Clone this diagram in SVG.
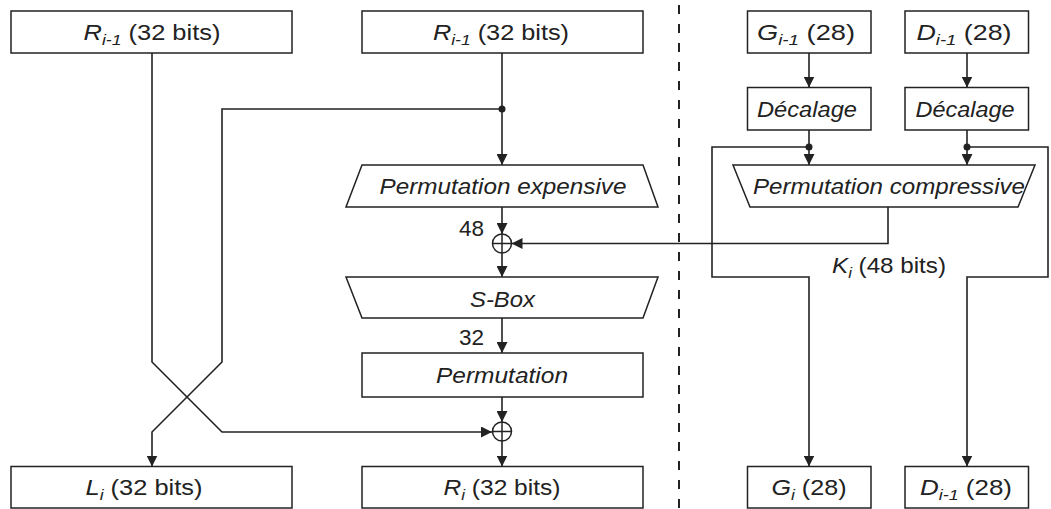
<svg xmlns="http://www.w3.org/2000/svg" width="1051" height="509" viewBox="0 0 1051 509">
<style>
.box{fill:#fff;stroke:#222;stroke-width:1.5}
.ln{fill:none;stroke:#222;stroke-width:1.5}
.arr{fill:none;stroke:#222;stroke-width:1.6;marker-end:url(#ah)}
.dash{fill:none;stroke:#222;stroke-width:2;stroke-dasharray:9 10}
text{font-family:"Liberation Sans",Arial,sans-serif;font-size:22.5px;fill:#222;text-anchor:middle}
.it{font-style:italic}
.sub{font-size:15.5px;font-style:italic}
</style>
<defs>
<marker id="ah" markerUnits="userSpaceOnUse" markerWidth="11" markerHeight="11" refX="11" refY="5.5" orient="auto">
<path d="M0,0 L11,5.5 L0,11 z" fill="#222"/>
</marker>
</defs>

<line class="dash" x1="679" y1="5" x2="679" y2="509"/>

<g id="connectors">
<polyline class="arr" points="152,53 152,362 222,432 492,432"/>
<polyline class="arr" points="502,109 222,109 222,362 152,432 152,466.5"/>
<circle cx="502" cy="109" r="3.5" fill="#222"/>
<line class="arr" x1="502" y1="53" x2="502" y2="165"/>
<line class="arr" x1="502" y1="207" x2="502" y2="234"/>
<line class="arr" x1="502" y1="253" x2="502" y2="277"/>
<line class="arr" x1="502" y1="318" x2="502" y2="353"/>
<line class="arr" x1="502" y1="397" x2="502" y2="422"/>
<line class="arr" x1="502" y1="441" x2="502" y2="466.5"/>
<line class="arr" x1="809" y1="53" x2="809" y2="87.5"/>
<line class="arr" x1="967" y1="53" x2="967" y2="87.5"/>
<line class="arr" x1="809" y1="130" x2="809" y2="165"/>
<line class="arr" x1="967" y1="130" x2="967" y2="165"/>
<circle cx="809" cy="147" r="3.5" fill="#222"/>
<circle cx="967" cy="147" r="3.5" fill="#222"/>
<polyline class="arr" points="809,147 712,147 712,277 809,277 809,466.5"/>
<polyline class="arr" points="967,147 1048,147 1048,277 967,277 967,466.5"/>
<polyline class="arr" points="888,207 888,243.5 511.5,243.5"/>
</g>

<g id="xor1">
<circle class="ln" cx="502" cy="243.5" r="9.5"/>
<line class="ln" x1="492.5" y1="243.5" x2="511.5" y2="243.5"/>
<line class="ln" x1="502" y1="234" x2="502" y2="253"/>
</g>
<g id="xor2">
<circle class="ln" cx="502" cy="431.5" r="9.5"/>
<line class="ln" x1="492.5" y1="431.5" x2="511.5" y2="431.5"/>
<line class="ln" x1="502" y1="422" x2="502" y2="441"/>
</g>

<g id="r-left">
<rect class="box" x="11" y="11" width="281" height="42"/>
<text x="152" y="39.5" textLength="137" lengthAdjust="spacingAndGlyphs"><tspan class="it">R</tspan><tspan class="sub" dy="5">i-1</tspan><tspan dy="-5"> (32 bits)</tspan></text>
</g>
<g id="r-right">
<rect class="box" x="362" y="11" width="281" height="42"/>
<text x="501" y="39.5" textLength="136" lengthAdjust="spacingAndGlyphs"><tspan class="it">R</tspan><tspan class="sub" dy="5">i-1</tspan><tspan dy="-5"> (32 bits)</tspan></text>
</g>
<g id="perm-exp">
<polygon class="box" points="362,165 643,165 658,207 346,207"/>
<text class="it" x="503" y="194" textLength="247" lengthAdjust="spacingAndGlyphs">Permutation expensive</text>
</g>
<text id="lbl48" x="484" y="236" style="text-anchor:end">48</text>
<g id="sbox">
<polygon class="box" points="346,277 658,277 643,318 362,318"/>
<text class="it" x="502.5" y="306.5" textLength="65" lengthAdjust="spacingAndGlyphs">S-Box</text>
</g>
<text id="lbl32" x="484" y="345" style="text-anchor:end">32</text>
<g id="perm">
<rect class="box" x="362" y="353" width="281" height="44"/>
<text class="it" x="502" y="383" textLength="132" lengthAdjust="spacingAndGlyphs">Permutation</text>
</g>
<g id="l-out">
<rect class="box" x="11" y="466.5" width="281" height="41.5"/>
<text x="144" y="495" textLength="117" lengthAdjust="spacingAndGlyphs"><tspan class="it">L</tspan><tspan class="sub" dy="5">i</tspan><tspan dy="-5"> (32 bits)</tspan></text>
</g>
<g id="r-out">
<rect class="box" x="362" y="466.5" width="281" height="41.5"/>
<text x="502" y="495" textLength="117" lengthAdjust="spacingAndGlyphs"><tspan class="it">R</tspan><tspan class="sub" dy="5">i</tspan><tspan dy="-5"> (32 bits)</tspan></text>
</g>

<g id="g-in">
<rect class="box" x="747.5" y="11" width="123.5" height="42"/>
<text x="806" y="39.5" textLength="98" lengthAdjust="spacingAndGlyphs"><tspan class="it">G</tspan><tspan class="sub" dy="5">i-1</tspan><tspan dy="-5"> (28)</tspan></text>
</g>
<g id="d-in">
<rect class="box" x="905" y="11" width="123.5" height="42"/>
<text x="964" y="39.5" textLength="95" lengthAdjust="spacingAndGlyphs"><tspan class="it">D</tspan><tspan class="sub" dy="5">i-1</tspan><tspan dy="-5"> (28)</tspan></text>
</g>
<g id="shift-g">
<rect class="box" x="747.5" y="87.5" width="123.5" height="42.5"/>
<text class="it" x="807" y="116.5" textLength="100" lengthAdjust="spacingAndGlyphs">Décalage</text>
</g>
<g id="shift-d">
<rect class="box" x="905" y="87.5" width="123.5" height="42.5"/>
<text class="it" x="965" y="116.5" textLength="99" lengthAdjust="spacingAndGlyphs">Décalage</text>
</g>
<g id="perm-comp">
<polygon class="box" points="733,165 1035,165 1018,207 750,207"/>
<text class="it" x="889" y="194" textLength="272" lengthAdjust="spacingAndGlyphs">Permutation compressive</text>
</g>
<text id="ki" x="889" y="273" textLength="114" lengthAdjust="spacingAndGlyphs"><tspan class="it">K</tspan><tspan class="sub" dy="5">i</tspan><tspan dy="-5"> (48 bits)</tspan></text>
<g id="g-out">
<rect class="box" x="747.5" y="466.5" width="123.5" height="41.5"/>
<text x="809" y="495" textLength="75" lengthAdjust="spacingAndGlyphs"><tspan class="it">G</tspan><tspan class="sub" dy="5">i</tspan><tspan dy="-5"> (28)</tspan></text>
</g>
<g id="d-out">
<rect class="box" x="905" y="466.5" width="123.5" height="41.5"/>
<text x="966" y="495" textLength="92" lengthAdjust="spacingAndGlyphs"><tspan class="it">D</tspan><tspan class="sub" dy="5">i-1</tspan><tspan dy="-5"> (28)</tspan></text>
</g>
</svg>
